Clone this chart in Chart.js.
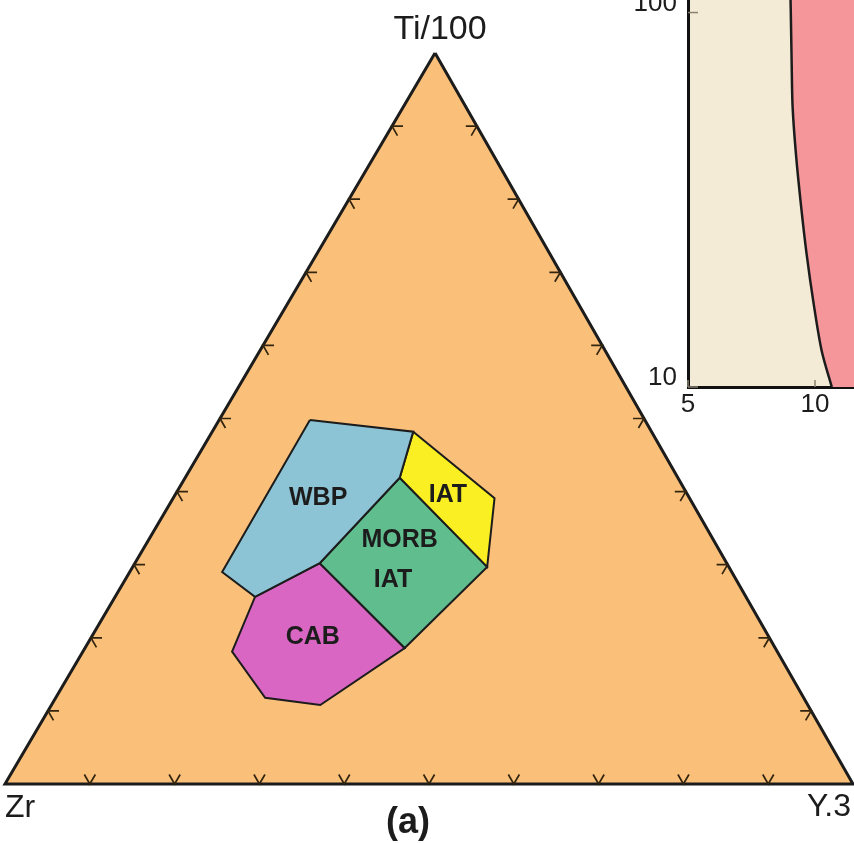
<!DOCTYPE html>
<html>
<head>
<meta charset="utf-8">
<script src="https://cdn.jsdelivr.net/npm/chart.js@4.4.1/dist/chart.umd.min.js"></script>
<style>
  html, body { margin: 0; padding: 0; background: #ffffff; overflow: hidden; width: 854px; height: 843px; }
  #tern { position: absolute; left: 0; top: 0; }
  #inset { position: absolute; left: 600px; top: -80px; }
</style>
</head>
<body>
<canvas id="tern" width="854" height="843"></canvas>
<canvas id="inset" width="400" height="530"></canvas>
<script>
// ---- Ti/100 – Zr – Y·3 discrimination diagram (compositions in %, [Ti, Zr, Y]) ----
const cornerLabels = ['Ti/100', 'Zr', 'Y.3'];
const panelLabel = '(a)';
const wbpField  = [[49.8, 39.5, 10.7], [48.2, 28.1, 23.7], [41.9, 32.8, 25.3], [30.2, 48.0, 21.8], [25.6, 57.9, 16.5], [29.0, 60.1, 10.9]];
const iatField  = [[48.2, 28.1, 23.7], [39.1, 23.0, 37.9], [29.7, 28.5, 41.8], [41.9, 32.8, 25.3]];
const morbField = [[41.9, 32.8, 25.3], [29.7, 28.5, 41.8], [18.6, 43.7, 37.7], [30.2, 48.0, 21.8]];
const cabField  = [[30.2, 48.0, 21.8], [18.6, 43.7, 37.7], [10.8, 57.5, 31.7], [11.8, 63.5, 24.7], [18.1, 64.3, 17.6], [25.6, 57.9, 16.5]];
const fieldNames = ['WBP', 'IAT', 'MORB', 'IAT', 'CAB'];
const edgeTicks = [10, 20, 30, 40, 50, 60, 70, 80, 90];

// ---- log–log panel (partly visible) ----
const insetCurveX = [8.70, 8.76, 8.80, 8.85, 9.02, 9.26, 9.55, 9.91, 10.37, 10.96];
const insetCurveY = [150, 102, 75.5, 55.9, 41.4, 30.7, 22.7, 16.9, 12.5, 10];
const insetXTicks = [5, 10];
const insetYTicks = [10, 100];

// label anchors (ternary %, [Ti, Zr, Y]) and styling
const fieldLabelAnchors = [[39.1, 43.8, 17.1], [39.5, 28.3, 32.2], [33.4, 37.0, 29.6], [27.9, 40.5, 31.6], [20.1, 53.8, 26.1]];
const FONT = '"Liberation Sans", Arial, Helvetica, sans-serif';
const INK = '#1c1c1c';
const COLORS = {
  base: '#fac07a', wbp: '#8cc4d6', iat: '#f9ef22', morb: '#60be8e', cab: '#d866c2',
  cream: '#f4ebd7', pink: '#f5969b'
};

// apex sits slightly right of the base midpoint in this drawing
const APEX_X = 0.5071;
const H = Math.sqrt(3) / 2;
function toXY(p) {
  const s = p[0] + p[1] + p[2];
  const t = p[0] / s, y = p[2] / s;
  return { x: y + t * APEX_X, y: t * H };
}
function closed(poly) {
  const pts = poly.map(toXY);
  pts.push(pts[0]);
  return pts;
}
function unit(v) { const n = Math.hypot(v[0], v[1]); return [v[0] / n, v[1] / n]; }

// small chevrons at every 10 % along the three edges, arms parallel to the other two edges
const L = 0.013;
const upLeftEdge = unit([APEX_X, H]);        // Zr -> Ti
const upRightEdge = unit([APEX_X - 1, H]);   // Y.3 -> Ti
function chevron(p, a, b) {
  return [{ x: p.x + L * a[0], y: p.y + L * a[1] }, p, { x: p.x + L * b[0], y: p.y + L * b[1] }];
}
const tickSets = [];
edgeTicks.forEach(f => {
  tickSets.push(chevron(toXY([0, 100 - f, f]), upLeftEdge, upRightEdge));                          // Zr – Y.3 edge
  tickSets.push(chevron(toXY([f, 100 - f, 0]), [1, 0], [-upRightEdge[0], -upRightEdge[1]]));       // Zr – Ti edge
  tickSets.push(chevron(toXY([f, 0, 100 - f]), [-1, 0], [-upLeftEdge[0], -upLeftEdge[1]]));        // Ti – Y.3 edge
});

function polyDataset(poly, color, width, order) {
  return {
    data: closed(poly), showLine: true, fill: 'shape', backgroundColor: color,
    borderColor: INK, borderWidth: width, pointRadius: 0, tension: 0, order: order,
    borderJoinStyle: 'miter'
  };
}

const datasets = [
  polyDataset([[100, 0, 0], [0, 100, 0], [0, 0, 100]], COLORS.base, 3, 20),
  polyDataset(wbpField, COLORS.wbp, 2, 10),
  polyDataset(iatField, COLORS.iat, 2, 10),
  polyDataset(morbField, COLORS.morb, 2, 10),
  polyDataset(cabField, COLORS.cab, 2, 10)
];
tickSets.forEach(t => datasets.push({
  data: t, showLine: true, fill: false, borderColor: '#33240f', borderWidth: 1.7,
  pointRadius: 0, order: 1
}));

const ternaryText = {
  id: 'ternaryText',
  afterDatasetsDraw(chart) {
    const ctx = chart.ctx, xs = chart.scales.x, ys = chart.scales.y;
    const px = p => ({ x: xs.getPixelForValue(p.x), y: ys.getPixelForValue(p.y) });
    ctx.save();
    ctx.fillStyle = INK;
    ctx.textBaseline = 'middle';
    // field names
    ctx.font = 'bold 25px ' + FONT;
    ctx.textAlign = 'center';
    fieldNames.forEach((n, i) => {
      const q = px(toXY(fieldLabelAnchors[i]));
      ctx.fillText(n, q.x, q.y);
    });
    // corner names
    const top = px(toXY([100, 0, 0])), left = px(toXY([0, 100, 0])), right = px(toXY([0, 0, 100]));
    ctx.font = '34px ' + FONT;
    ctx.fillText(cornerLabels[0], top.x + 5, top.y - 23);
    ctx.textAlign = 'left';
    ctx.font = '32px ' + FONT;
    ctx.fillText(cornerLabels[1], left.x, left.y + 24);
    ctx.textAlign = 'right';
    ctx.fillText(cornerLabels[2], right.x - 2, right.y + 23);
    // panel letter
    ctx.textAlign = 'center';
    ctx.font = 'bold 36px ' + FONT;
    ctx.fillText(panelLabel, (left.x + right.x) / 2 - 21, left.y + 39);
    ctx.restore();
  }
};

new Chart(document.getElementById('tern'), {
  type: 'scatter',
  data: { datasets },
  options: {
    responsive: false, animation: false, devicePixelRatio: 1,
    layout: { padding: 0 },
    plugins: { legend: { display: false }, tooltip: { enabled: false } },
    scales: {
      x: { type: 'linear', display: false, min: -5 / 848, max: 849 / 848 },
      y: { type: 'linear', display: false, min: -59 / 844.1, max: 784 / 844.1 }
    }
  },
  plugins: [ternaryText]
});

// ---- log–log panel ----
const curvePts = insetCurveX.map((x, i) => ({ x, y: insetCurveY[i] }));
const pinkPts = curvePts.concat([{ x: 30, y: 10 }, { x: 30, y: 150 }]);
pinkPts.push(curvePts[0]);

const insetDecor = {
  id: 'insetDecor',
  beforeDraw(chart) {
    const a = chart.chartArea, ctx = chart.ctx;
    ctx.save();
    ctx.fillStyle = COLORS.cream;
    ctx.fillRect(a.left, a.top, a.right - a.left, a.bottom - a.top);
    ctx.restore();
  },
  afterDatasetsDraw(chart) {
    const ctx = chart.ctx, a = chart.chartArea, xs = chart.scales.x, ys = chart.scales.y;
    ctx.save();
    ctx.strokeStyle = '#8a8070';
    ctx.lineWidth = 1.5;
    insetXTicks.forEach(v => {
      const p = xs.getPixelForValue(v);
      ctx.beginPath(); ctx.moveTo(p, a.bottom); ctx.lineTo(p, a.bottom - 7); ctx.stroke();
    });
    insetYTicks.forEach(v => {
      const p = ys.getPixelForValue(v);
      ctx.beginPath(); ctx.moveTo(a.left, p); ctx.lineTo(a.left + 10, p); ctx.stroke();
    });
    ctx.restore();
  }
};

new Chart(document.getElementById('inset'), {
  type: 'scatter',
  data: {
    datasets: [
      { data: curvePts, showLine: true, fill: false, borderColor: INK, borderWidth: 2.5,
        pointRadius: 0, tension: 0.3, order: 1 },
      { data: pinkPts, showLine: true, fill: 'shape', backgroundColor: COLORS.pink,
        borderWidth: 0, borderColor: 'rgba(0,0,0,0)', pointRadius: 0, order: 2 }
    ]
  },
  options: {
    responsive: false, animation: false, devicePixelRatio: 1,
    layout: { padding: { top: 15.4, right: 58, left: 0, bottom: 0 } },
    plugins: { legend: { display: false }, tooltip: { enabled: false } },
    scales: {
      x: {
        type: 'logarithmic', min: 5, max: 20,
        afterBuildTicks: s => { s.ticks = insetXTicks.map(v => ({ value: v })); },
        afterFit: s => { s.height = 63; },
        grid: { display: false, drawTicks: false },
        border: { display: true, color: '#111', width: 3 },
        ticks: { padding: 2, color: INK, font: { family: FONT, size: 26 }, callback: v => String(v), maxRotation: 0, autoSkip: false }
      },
      y: {
        type: 'logarithmic', min: 10, max: 150,
        afterBuildTicks: s => { s.ticks = insetYTicks.map(v => ({ value: v })); },
        afterFit: s => { s.width = 88; },
        grid: { display: false, drawTicks: false },
        border: { display: true, color: '#111', width: 3 },
        ticks: { padding: 11, labelOffset: -9, color: INK, font: { family: FONT, size: 26 }, callback: v => String(v), autoSkip: false }
      }
    }
  },
  plugins: [insetDecor]
});
</script>
</body>
</html>
